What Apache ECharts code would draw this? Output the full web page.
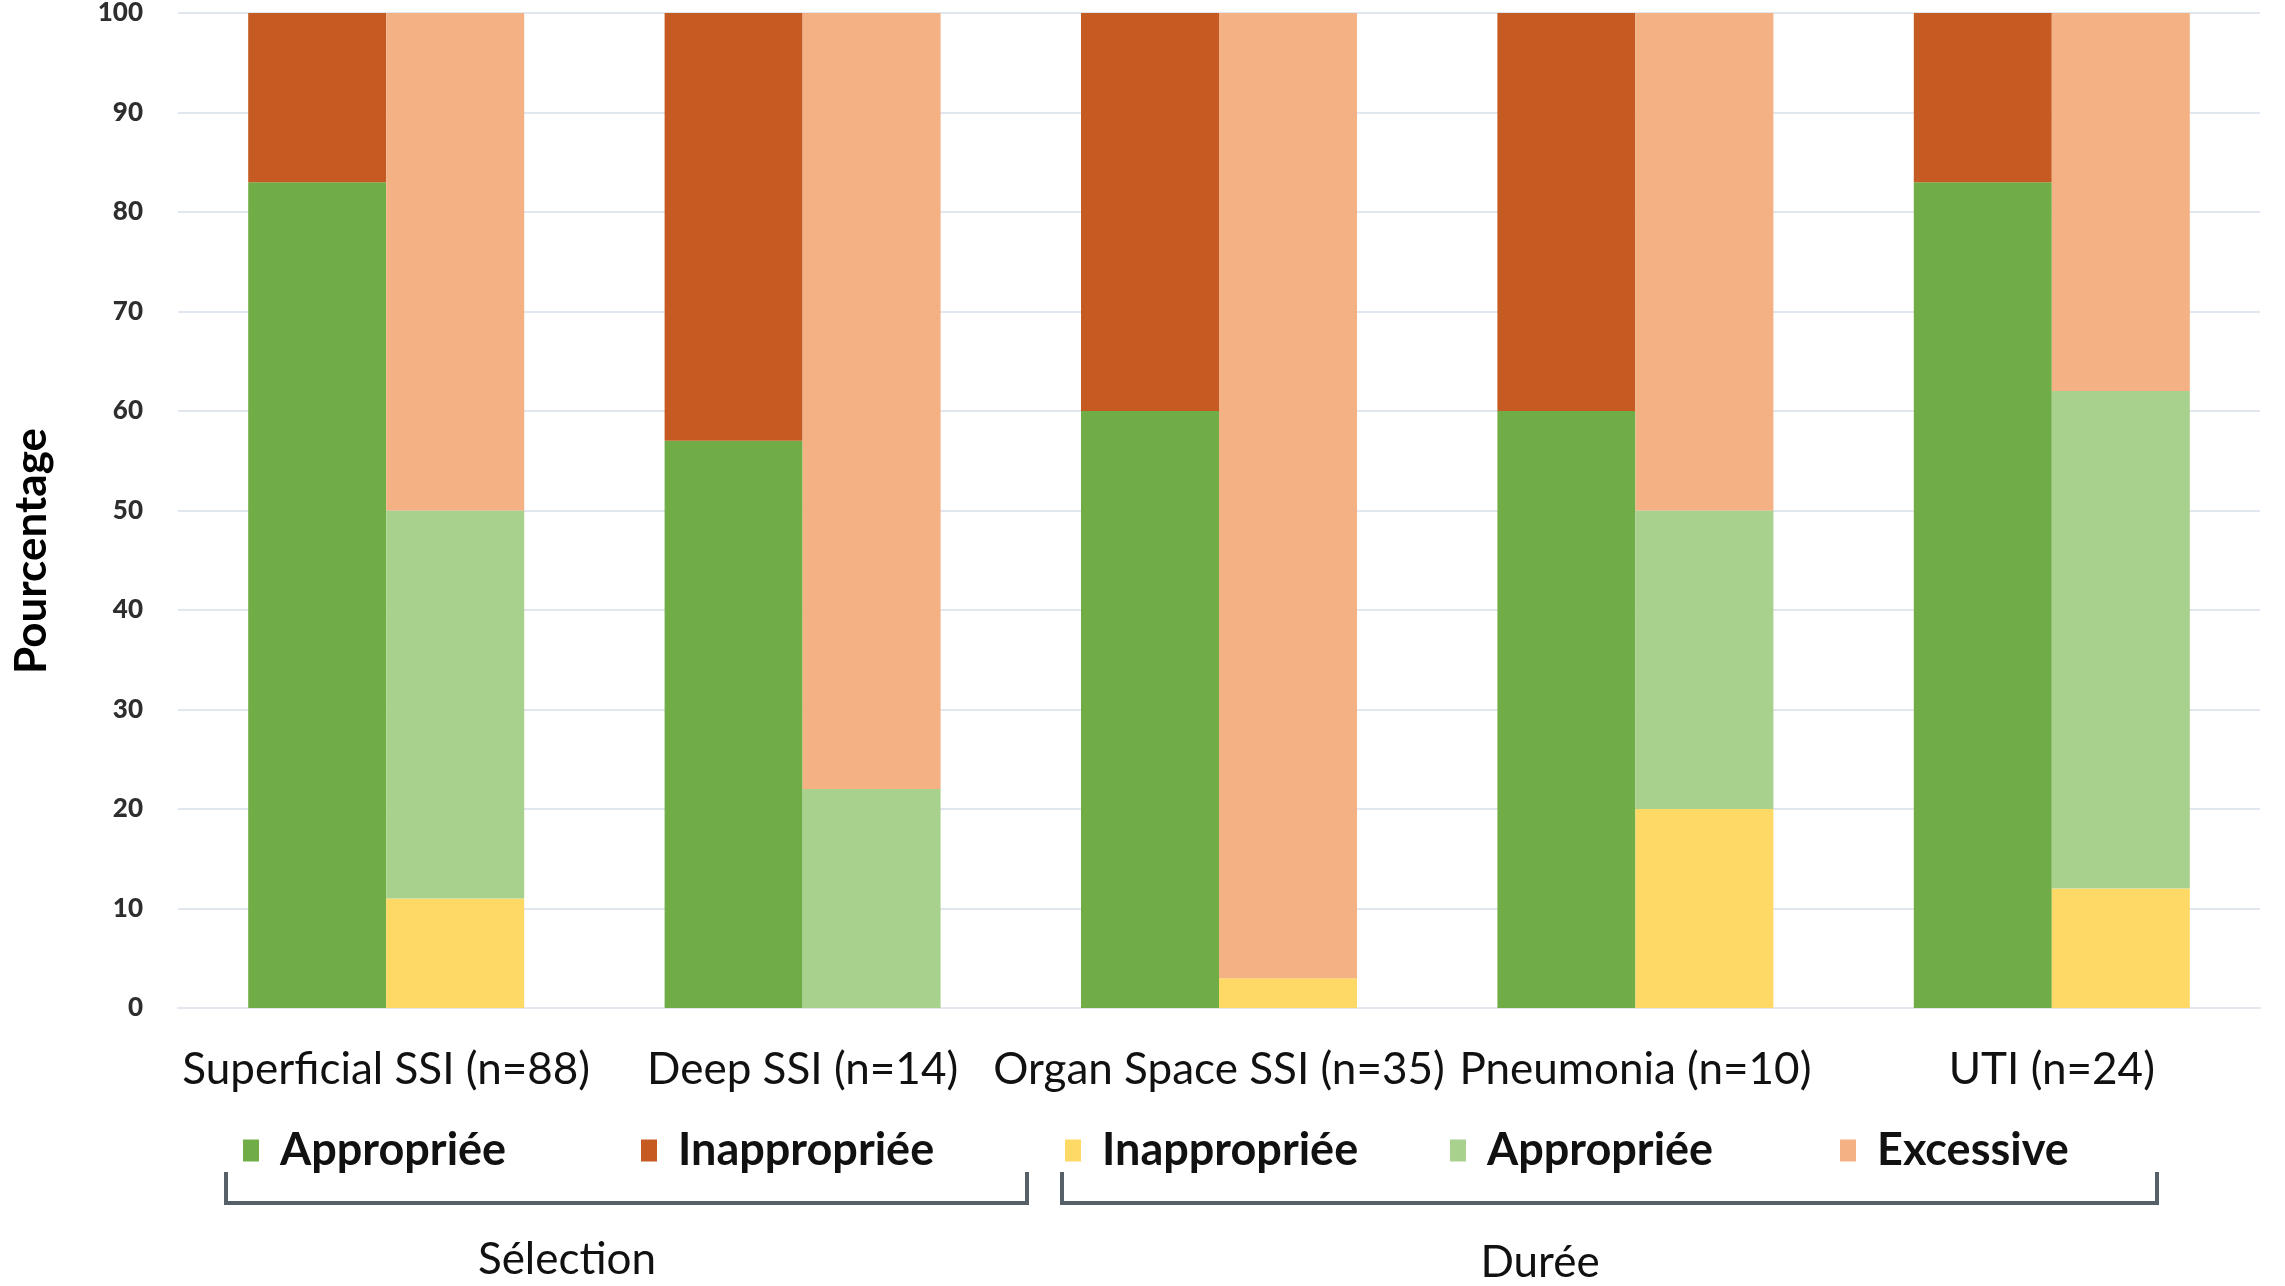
<!DOCTYPE html>
<html>
<head>
<meta charset="utf-8">
<script src="https://cdn.jsdelivr.net/npm/echarts@6/dist/echarts.min.js"></script>
<style>
  html, body { margin: 0; padding: 0; background: #ffffff; }
  #chart { width: 2285px; height: 1286px; }
</style>
</head>
<body>
<div id="chart"></div>
<script>
// Infection types with sample sizes
const categories = ['Superficial SSI (n=88)', 'Deep SSI (n=14)', 'Organ Space SSI (n=35)', 'Pneumonia (n=10)', 'UTI (n=24)'];

// Antibiotic selection (%)
const selectionAppropriee = [83, 57, 60, 60, 83];
const selectionInappropriee = [17, 43, 40, 40, 17];

// Treatment duration (%)
const dureeInappropriee = [11, 0, 3, 20, 12];
const dureeAppropriee = [39, 22, 0, 30, 50];
const dureeExcessive = [50, 78, 97, 50, 38];

const yTicks = [0, 10, 20, 30, 40, 50, 60, 70, 80, 90, 100];

const FONT = 'Lato, "Open Sans", "Noto Sans", sans-serif';

const seriesDefs = [
  { name: 'Sélection: Appropriée',   stack: 'selection', data: selectionAppropriee,   color: '#70AD47', legendLeft: 243 },
  { name: 'Sélection: Inappropriée', stack: 'selection', data: selectionInappropriee, color: '#C55A22', legendLeft: 641 },
  { name: 'Durée: Inappropriée',     stack: 'duree',     data: dureeInappropriee,     color: '#FFD966', legendLeft: 1065 },
  { name: 'Durée: Appropriée',       stack: 'duree',     data: dureeAppropriee,       color: '#A9D18E', legendLeft: 1450 },
  { name: 'Durée: Excessive',        stack: 'duree',     data: dureeExcessive,        color: '#F4B183', legendLeft: 1840 }
];

const chart = echarts.init(document.getElementById('chart'), null, { renderer: 'canvas' });

const bracketColor = '#566069';

chart.setOption({
  backgroundColor: '#ffffff',
  animation: false,
  grid: { left: 178, right: 25, top: 13, bottom: 278, containLabel: false },
  legend: seriesDefs.map(s => ({
    data: [s.name],
    left: s.legendLeft,
    top: 1128,
    padding: 0,
    icon: 'rect',
    itemWidth: 16,
    itemHeight: 22,
    itemGap: 0,
    selectedMode: false,
    formatter: n => n.split(': ')[1],
    textStyle: { fontFamily: FONT, fontSize: 45, fontWeight: 'bold', color: '#111111', padding: [0, 0, 0, 16] }
  })),
  xAxis: {
    type: 'category',
    data: categories,
    axisLine: { show: true, lineStyle: { color: '#e3e8ee', width: 2 } },
    axisTick: { show: false },
    axisLabel: { fontFamily: FONT, fontSize: 44, color: '#111111', margin: 40, interval: 0 }
  },
  yAxis: {
    type: 'value',
    min: 0,
    max: 100,
    interval: 10,
    axisLine: { show: false },
    axisTick: { show: false },
    splitLine: { lineStyle: { color: '#e1e7ee', width: 2 } },
    axisLabel: {
      fontFamily: FONT, fontSize: 26, fontWeight: 900, color: '#2e2e2e', margin: 35,
      formatter: v => (yTicks.indexOf(v) >= 0 ? String(v) : '')
    }
  },
  series: seriesDefs.map(s => ({
    name: s.name,
    type: 'bar',
    stack: s.stack,
    data: s.data,
    barWidth: 138,
    barGap: '0%',
    itemStyle: { color: s.color },
    emphasis: { disabled: true }
  })),
  graphic: [
    // Vertical axis title
    {
      type: 'text',
      x: 32,
      y: 551,
      rotation: Math.PI / 2,
      style: {
        text: 'Pourcentage',
        font: 'bold 44px ' + FONT,
        fill: '#000000',
        align: 'center',
        verticalAlign: 'middle'
      }
    },
    // Bracket grouping the selection columns
    {
      type: 'polyline',
      shape: { points: [[226, 1172], [226, 1203], [1027, 1203], [1027, 1172]] },
      style: { stroke: bracketColor, lineWidth: 4, fill: null },
      z: 1
    },
    // Bracket grouping the duration columns
    {
      type: 'polyline',
      shape: { points: [[1062, 1172], [1062, 1203], [2157, 1203], [2157, 1172]] },
      style: { stroke: bracketColor, lineWidth: 4, fill: null },
      z: 1
    },
    {
      type: 'text',
      x: 567,
      y: 1260,
      style: { text: 'Sélection', font: '44px ' + FONT, fill: '#111111', align: 'center', verticalAlign: 'middle' }
    },
    {
      type: 'text',
      x: 1540,
      y: 1263,
      style: { text: 'Durée', font: '44px ' + FONT, fill: '#111111', align: 'center', verticalAlign: 'middle' }
    }
  ]
});
</script>
</body>
</html>
